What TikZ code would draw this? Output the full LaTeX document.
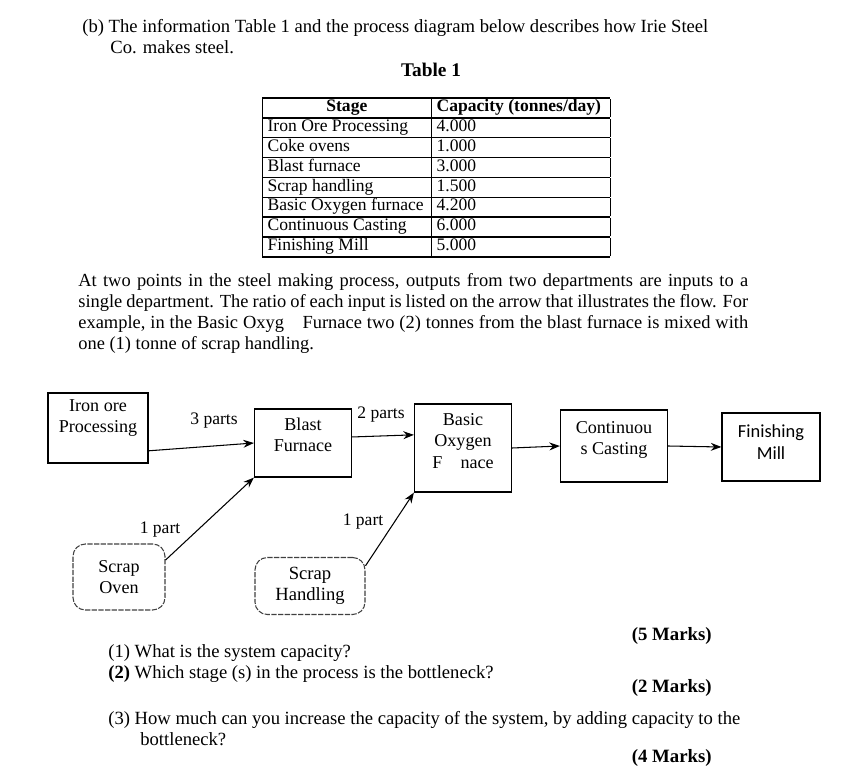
\documentclass[tikz,border=0pt]{standalone}
\usepackage{fontspec}
\setmainfont{Liberation Serif}
\newfontfamily\calibri{Carlito}
\usetikzlibrary{arrows.meta}

\tikzset{
  box/.style={draw, line width=0.7pt, align=center, inner sep=2pt,
    font=\fontsize{10.3}{12}\selectfont},
  roundbox/.style={box, draw=black!75, line width=0.6pt, rounded corners=7pt,
    dash pattern=on 3pt off 0.8pt},
  flow/.style={-{Stealth[length=6pt,width=4.5pt]}, line width=0.6pt},
  lbl/.style={inner sep=0pt, font=\fontsize{10}{12}\selectfont},
  txt/.style={anchor=base west, inner sep=0pt, font=\fontsize{10.6}{12}\selectfont},
  marks/.style={anchor=base east, inner sep=0pt, font=\fontsize{10.7}{12}\selectfont\bfseries}
}

\begin{document}
\begin{tikzpicture}[x=0.02cm,y=-0.02cm]
\useasboundingbox (0,0) rectangle (853,784);

% heading and table
\node[txt] (intro) at (82,33) {(b) The information Table 1 and the process diagram below describes how Irie Steel};
\node[txt] (intro2) at (110,54) {Co. makes steel.};
\node[anchor=base, inner sep=0pt, font=\fontsize{11}{12}\selectfont\bfseries] (ttl) at (431,77) {Table 1};

\node[anchor=north west, inner sep=0pt] (tbl) at (262,97) {%
  \fontsize{10}{10.5}\selectfont
  \setlength\tabcolsep{3pt}\setlength\arrayrulewidth{0.8pt}%
  \begin{tabular}{|p{3.17cm}|p{3.37cm}|}
  \hline
  \multicolumn{1}{|c|}{\textbf{Stage}} & \textbf{Capacity (tonnes/day)}\\ \hline
  Iron Ore Processing & 4.000\\ \hline
  Coke ovens & 1.000\\ \hline
  Blast furnace & 3.000\\ \hline
  Scrap handling & 1.500\\ \hline
  Basic Oxygen furnace & 4.200\\ \hline
  Continuous Casting & 6.000\\ \hline
  Finishing Mill & 5.000\\ \hline
  \end{tabular}};

\node[anchor=north west, inner sep=0pt, text width=13.4cm, align=justify,
  font=\fontsize{10.5}{11.8}\selectfont] (para) at (78,273.5)
  {At two points in the steel making process, outputs from two departments are inputs to a\linebreak
   single department. The ratio of each input is listed on the arrow that illustrates the flow. For\linebreak
   example, in the Basic Oxyg\quad Furnace two (2) tonnes from the blast furnace is mixed with\linebreak
   one (1) tonne of scrap handling.};

% process diagram
\node[box, line width=1.3pt, minimum width=2cm, minimum height=1.4cm, font=\fontsize{10.3}{12.4}\selectfont] (iron) at (98,428) {Iron ore\\Processing\\[1.2pt]};
\node[box, minimum width=1.94cm, minimum height=1.36cm] (blast) at (303,443) {Blast\\Furnace\\[-2.5pt]};
\node[box, minimum width=1.94cm, minimum height=1.76cm, font=\fontsize{10.3}{12.4}\selectfont] (bof) at (463,448) {Basic\\Oxygen\\F\quad nace\\[-4.4pt]};
\node[box, minimum width=2.14cm, minimum height=1.44cm] (cast) at (614,446) {Continuou\\s Casting\\[-2.5pt]};
\node[box, minimum width=1.96cm, minimum height=1.36cm, font=\calibri\fontsize{10.5}{12}\selectfont] (mill) at (771,447) {Finishing\\Mill\\[-6.4pt]};
\node[roundbox, minimum width=1.84cm, minimum height=1.32cm] (oven) at (119,577) {Scrap\\Oven};
\node[roundbox, minimum width=2.2cm, minimum height=1.14cm, font=\fontsize{10.6}{12}\selectfont] (handle) at (310,586) {Scrap\\Handling};

\draw[flow] (iron.-24) -- (blast.west);
\draw[flow] (blast.7) -- (bof.165);
\draw[flow] (bof.east) -- (cast.west);
\draw[flow] (cast.east) -- (mill.west);
\draw[flow] (oven.20) -- (blast.south west);
\draw[flow] (handle.20) -- (bof.south west);

\node[lbl] (l1) at (214,421) {3 parts};
\node[lbl] (l2) at (381,415) {2 parts};
\node[lbl] (l3) at (160,530) {1 part};
\node[lbl] (l4) at (363,522) {1 part};

% questions
\node[txt] (q1) at (108,657) {(1) What is the system capacity?};
\node[txt] (q2) at (108,678) {\textbf{(2)} Which stage (s) in the process is the bottleneck?};
\node[txt] (q3) at (108,724) {(3) How much can you increase the capacity of the system, by adding capacity to the};
\node[txt] (q3b) at (140,745) {bottleneck?};
\node[marks] (m1) at (712,640) {(5 Marks)};
\node[marks] (m2) at (712,692) {(2 Marks)};
\node[marks] (m3) at (712,762) {(4 Marks)};
\end{tikzpicture}
\end{document}
